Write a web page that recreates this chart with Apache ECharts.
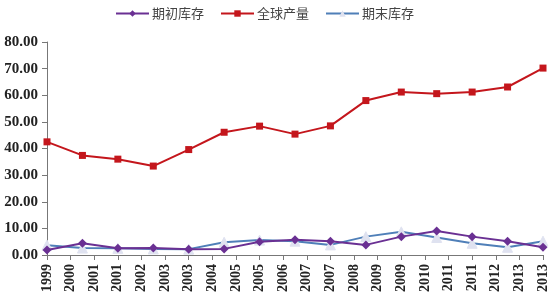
<!DOCTYPE html>
<html><head><meta charset="utf-8">
<script src="https://cdn.jsdelivr.net/npm/echarts@6/dist/echarts.min.js"></script>
<style>html,body{margin:0;padding:0;background:#fff}#c{width:550px;height:300px}</style>
</head><body><div id="c"></div>
<script>
var years = [1999,2000,2001,2002,2003,2004,2005,2006,2007,2008,2009,2010,2011,2012,2013];
var tickLabels = ['1999','2000','2001','2001','2002','2003','2003','2004','2005','2005','2006','2007','2007','2008','2009','2009','2010','2011','2011','2012','2013','2013'];
var openingStock = [1.9,4.4,2.5,2.6,2.2,2.3,5.0,5.7,5.2,3.8,6.9,9.0,6.9,5.2,2.9];
var production = [42.5,37.4,36.0,33.4,39.6,46.1,48.4,45.4,48.5,58.0,61.2,60.6,61.2,63.1,70.2];
var closingStock = [3.7,2.6,2.5,2.3,2.2,4.8,5.6,5.2,3.8,6.9,8.7,6.6,4.4,2.9,5.2];
var seriesNames = ['期初库存','全球产量','期末库存'];
var monthsPerTick = 8;

function pts(vals){ return vals.map(function(v,i){ return [(years[i]-years[0])*12, v]; }); }

var chart = echarts.init(document.getElementById('c'));
chart.setOption({
  animation:false,
  legend:{
    top:2, left:110, itemGap:16, itemWidth:33, itemHeight:8,
    textStyle:{fontFamily:'Noto Sans CJK SC', fontSize:13, color:'#444', padding:[0,0,0,-2]},
    data:seriesNames
  },
  grid:{left:47, right:7, top:42, bottom:45, containLabel:false},
  xAxis:{
    type:'value', min:0, max:(years[years.length-1]-years[0])*12, interval:monthsPerTick,
    axisLine:{lineStyle:{color:'#777'}},
    axisTick:{show:true, length:5, lineStyle:{color:'#777'}},
    splitLine:{show:false},
    axisLabel:{rotate:90, margin:9, fontFamily:'Liberation Serif', fontWeight:'bold', fontSize:14, color:'#222',
      formatter:function(v){ return tickLabels[Math.round(v/monthsPerTick)]; }}
  },
  yAxis:{
    type:'value', min:0, max:80, interval:10,
    axisLine:{show:true, lineStyle:{color:'#777'}},
    axisTick:{show:true, length:5, lineStyle:{color:'#777'}},
    splitLine:{show:false},
    axisLabel:{margin:9, fontFamily:'Liberation Serif', fontWeight:'bold', fontSize:15, color:'#222',
      formatter:function(v){ return v.toFixed(2); }}
  },
  series:[
    {name:seriesNames[0], type:'line', data:pts(openingStock), symbol:'diamond', symbolSize:9,
     lineStyle:{color:'#6a3093', width:2}, itemStyle:{color:'#6a3093'}, z:3},
    {name:seriesNames[1], type:'line', data:pts(production), symbol:'rect', symbolSize:7,
     lineStyle:{color:'#c4161c', width:2}, itemStyle:{color:'#c4161c'}},
    {name:seriesNames[2], type:'line', data:pts(closingStock), symbol:'triangle', symbolSize:10,
     lineStyle:{color:'#4f7fb8', width:2}, itemStyle:{color:'#dfe2f0', borderColor:'#dfe2f0'}, z:2}
  ]
});
</script></body></html>
